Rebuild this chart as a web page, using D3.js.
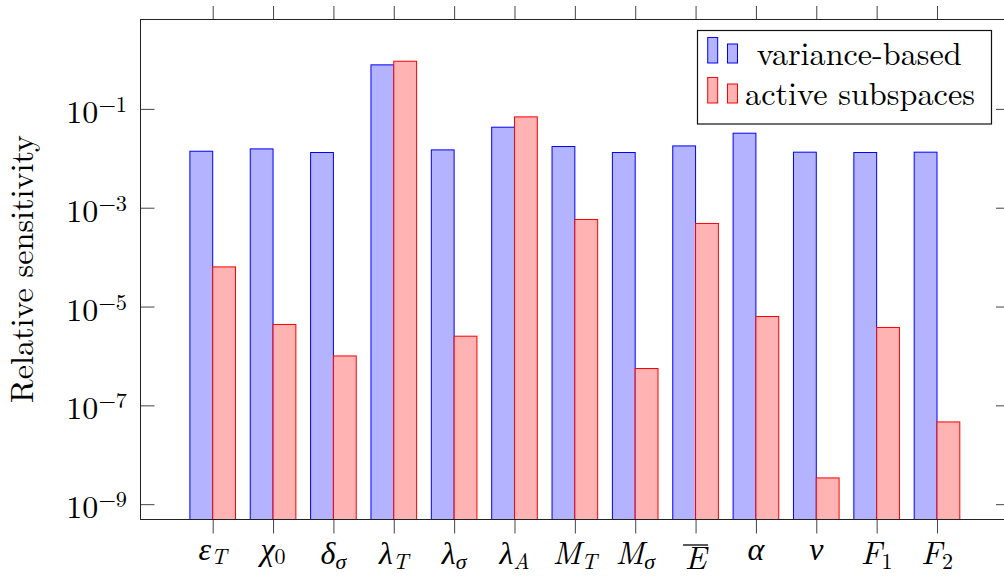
<!DOCTYPE html>
<html>
<head>
<meta charset="utf-8">
<script src="https://cdn.jsdelivr.net/npm/d3@7"></script>
<style>
  html, body { margin: 0; padding: 0; background: #fff; }
  svg { display: block; }
</style>
</head>
<body>
<svg id="chart" width="1004" height="577"></svg>
<script>
// Parameters whose sensitivities are compared
const categories = ["epsT", "chi0", "deltaSigma", "lambdaT", "lambdaSigma", "lambdaA",
                    "MT", "MSigma", "Ebar", "alpha", "nu", "F1", "F2"];
const labelSymbols = ["ε", "χ", "δ", "λ", "λ", "λ", "M", "M", "E", "α", "ν", "F", "F"];
const labelSubscripts = ["T", "0", "σ", "T", "σ", "A", "T", "σ", "", "", "", "1", "2"];
const overlinedLabels = ["Ebar"];

// Relative sensitivity per method
const seriesNames = ["variance-based", "active subspaces"];
const varianceBased = [1.39e-2, 1.55e-2, 1.31e-2, 0.778, 1.48e-2, 4.26e-2,
                       1.73e-2, 1.31e-2, 1.78e-2, 3.22e-2, 1.33e-2, 1.31e-2, 1.33e-2];
const activeSubspaces = [6.34e-5, 4.34e-6, 1.0e-6, 0.922, 2.51e-6, 6.89e-2,
                         5.78e-4, 5.57e-7, 4.80e-4, 6.28e-6, 3.40e-9, 3.77e-6, 4.62e-8];

// Y axis ticks (every second decade)
const yTickValues = [1e-1, 1e-3, 1e-5, 1e-7, 1e-9];
const yLabel = "Relative sensitivity";

const romanFont = '"Latin Modern Roman", "Liberation Serif", "DejaVu Serif", serif';
const greekFont = '"Liberation Serif", "DejaVu Serif", serif';
const isGreek = s => /[\u0370-\u03ff]/.test(s);

const svg = d3.select("#chart");

const plot = { left: 140.5, right: 1010, top: 19.5, bottom: 519.5 };

const x = d3.scalePoint().domain(categories).range([212.7, 937]);
const barWidth = x.step() * 0.378;

const y = d3.scaleLog()
  .domain([Math.pow(10, -9.31), Math.pow(10, 0.809)])
  .range([plot.bottom, plot.top]);

const colors = {
  blue: { stroke: "#0000ff", fill: "#b3b3ff" },
  red:  { stroke: "#ff0000", fill: "#ffb3b3" }
};

// Bars: blue to the left of each tick, red to the right
const series = [
  { values: varianceBased, c: colors.blue, offset: -1 },
  { values: activeSubspaces, c: colors.red, offset: 0 }
];
series.forEach(s => {
  svg.append("g").selectAll("rect")
    .data(categories)
    .join("rect")
    .attr("x", d => x(d) + s.offset * barWidth)
    .attr("width", barWidth)
    .attr("y", (d, i) => y(s.values[i]))
    .attr("height", (d, i) => plot.bottom - y(s.values[i]))
    .attr("fill", s.c.fill)
    .attr("stroke", s.c.stroke)
    .attr("stroke-width", 1);
});

// Axis ticks
const tickStroke = "#444";
function styleAxis(g) {
  g.select(".domain").remove();
  g.selectAll(".tick line").attr("stroke", tickStroke).attr("stroke-width", 1);
  g.selectAll(".tick text").remove();
}
svg.append("g").attr("transform", `translate(0,${plot.top})`)
  .call(d3.axisTop(x).tickSize(13.5).tickSizeOuter(0).tickFormat(""))
  .call(styleAxis);
svg.append("g").attr("transform", `translate(0,${plot.bottom})`)
  .call(d3.axisBottom(x).tickSize(14).tickSizeOuter(0).tickFormat(""))
  .call(styleAxis);
svg.append("g").attr("transform", `translate(${plot.left},0)`)
  .call(d3.axisLeft(y).tickValues(yTickValues).tickSize(-14).tickSizeOuter(0).tickFormat(""))
  .call(styleAxis);
svg.append("g").attr("transform", `translate(${plot.right},0)`)
  .call(d3.axisRight(y).tickValues(yTickValues).tickSize(-14).tickSizeOuter(0).tickFormat(""))
  .call(styleAxis);

// Frame
svg.append("rect")
  .attr("x", plot.left).attr("y", plot.top)
  .attr("width", plot.right - plot.left).attr("height", plot.bottom - plot.top)
  .attr("fill", "none").attr("stroke", "#222").attr("stroke-width", 1);

// Y tick labels: 10^k
svg.append("g").selectAll("text")
  .data(yTickValues)
  .join("text")
  .attr("x", 127)
  .attr("y", d => y(d) + 14)
  .attr("text-anchor", "end")
  .attr("font-size", 32)
  .style("font-family", romanFont)
  .each(function (d) {
    const t = d3.select(this);
    const e = Math.round(Math.log10(d));
    t.append("tspan").text("10");
    t.append("tspan").attr("font-size", 22.4).attr("dy", -11)
      .text((e < 0 ? "\u2212" : "") + Math.abs(e));
  });

// X tick labels (math symbols with subscripts), top-aligned under the axis
const shortGlyphs = "εχαν";
function labelBaseline(i) {
  if (overlinedLabels.includes(categories[i])) return 569.3;
  return shortGlyphs.includes(labelSymbols[i]) ? 559.5 : 564;
}
svg.append("g").selectAll("text")
  .data(categories)
  .join("text")
  .attr("x", d => x(d))
  .attr("y", (d, i) => labelBaseline(i))
  .attr("text-anchor", "middle")
  .attr("font-size", 32)
  .style("font-family", romanFont)
  .each(function (d, i) {
    const t = d3.select(this);
    const sym = labelSymbols[i];
    t.append("tspan")
      .style("font-family", isGreek(sym) ? greekFont : romanFont)
      .style("font-style", "italic")
      .text(sym);
    const sub = labelSubscripts[i];
    if (sub) {
      t.append("tspan")
        .attr("font-size", 22)
        .attr("dy", 4.5)
        .style("font-family", isGreek(sub) ? greekFont : romanFont)
        .style("font-style", /\d/.test(sub) ? "normal" : "italic")
        .text(sub);
    }
  });
svg.append("g").selectAll("line")
  .data(overlinedLabels)
  .join("line")
  .attr("x1", d => x(d) - 12.5).attr("x2", d => x(d) + 12.5)
  .attr("y1", 545).attr("y2", 545)
  .attr("stroke", "#000").attr("stroke-width", 1.3);

// Y axis title
svg.append("text")
  .attr("transform", "translate(33,269) rotate(-90)")
  .attr("text-anchor", "middle")
  .attr("font-size", 32)
  .attr("textLength", 268)
  .attr("lengthAdjust", "spacingAndGlyphs")
  .style("font-family", romanFont)
  .text(yLabel);

// Legend
const legend = svg.append("g");
legend.append("rect")
  .attr("x", 697.5).attr("y", 30.5).attr("width", 294).attr("height", 93.5)
  .attr("fill", "#fff").attr("stroke", "#111").attr("stroke-width", 1.2);
const legendRows = [
  { name: seriesNames[0], c: colors.blue, top: 37.5, textX: 756.7, baseline: 65, len: 205 },
  { name: seriesNames[1], c: colors.red, top: 77.5, textX: 745, baseline: 104.5, len: 230 }
];
legendRows.forEach(r => {
  const base = r.top + 25.5;
  legend.append("rect").attr("x", 707.7).attr("y", r.top).attr("width", 10).attr("height", base - r.top)
    .attr("fill", r.c.fill).attr("stroke", r.c.stroke).attr("stroke-width", 1);
  legend.append("rect").attr("x", 727.5).attr("y", r.top + 6.5).attr("width", 10).attr("height", base - r.top - 6.5)
    .attr("fill", r.c.fill).attr("stroke", r.c.stroke).attr("stroke-width", 1);
  legend.append("text")
    .attr("x", r.textX).attr("y", r.baseline)
    .attr("font-size", 32)
    .attr("textLength", r.len)
    .attr("lengthAdjust", "spacingAndGlyphs")
    .style("font-family", romanFont)
    .text(r.name);
});
</script>
</body>
</html>
